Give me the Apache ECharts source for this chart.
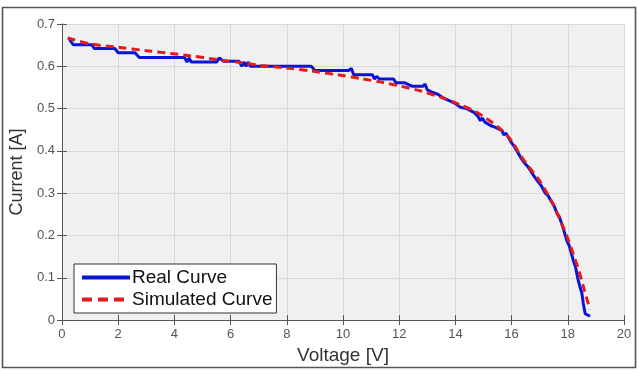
<!DOCTYPE html>
<html>
<head>
<meta charset="utf-8">
<script src="https://cdn.jsdelivr.net/npm/echarts@6/dist/echarts.min.js"></script>
<style>
html,body{margin:0;padding:0;background:#fff;}
#chart{width:639px;height:370px;}
</style>
</head>
<body>
<div id="chart"></div>
<script>
var xTicks = [0, 2, 4, 6, 8, 10, 12, 14, 16, 18, 20];
var yTicks = [0, 0.1, 0.2, 0.3, 0.4, 0.5, 0.6, 0.7];

var realV = [0.27, 0.40, 1.06, 1.15, 1.88, 2.00, 2.60, 2.75, 4.36, 4.45, 4.52, 4.60, 5.50, 5.60, 5.75, 6.30, 6.40, 6.48, 6.55, 6.62, 6.70, 8.87, 9.00, 10.20, 10.30, 10.38, 11.05, 11.12, 11.20, 11.30, 11.80, 11.88, 12.20, 12.45, 12.85, 12.92, 13.00, 13.20, 13.40, 13.60, 13.80, 14.00, 14.18, 14.40, 14.66, 14.80, 14.89, 14.95, 15.05, 15.25, 15.45, 15.66, 15.72, 15.80, 16.02, 16.10, 16.31, 16.45, 16.55, 16.67, 16.75, 16.90, 17.05, 17.20, 17.30, 17.40, 17.50, 17.61, 17.70, 17.80, 17.97, 18.05, 18.20, 18.28, 18.35, 18.44, 18.50, 18.55, 18.62, 18.79];
var realI = [0.663, 0.651, 0.651, 0.642, 0.642, 0.632, 0.632, 0.621, 0.621, 0.610, 0.620, 0.610, 0.610, 0.620, 0.612, 0.612, 0.600, 0.610, 0.600, 0.610, 0.600, 0.600, 0.590, 0.590, 0.595, 0.580, 0.580, 0.570, 0.576, 0.570, 0.570, 0.561, 0.561, 0.553, 0.553, 0.558, 0.544, 0.538, 0.533, 0.524, 0.518, 0.512, 0.503, 0.500, 0.491, 0.482, 0.471, 0.478, 0.468, 0.460, 0.455, 0.448, 0.438, 0.442, 0.417, 0.410, 0.386, 0.372, 0.365, 0.354, 0.345, 0.331, 0.318, 0.300, 0.294, 0.282, 0.272, 0.253, 0.244, 0.225, 0.187, 0.176, 0.140, 0.124, 0.100, 0.077, 0.064, 0.040, 0.015, 0.009];

var simV = [0.20, 1.00, 2.00, 3.00, 4.55, 5.50, 6.44, 7.09, 8.00, 8.87, 9.80, 10.64, 11.40, 12.06, 12.80, 13.60, 14.20, 14.66, 15.10, 15.60, 16.00, 16.31, 16.70, 17.02, 17.49, 17.97, 18.20, 18.38, 18.55, 18.73, 18.78];
var simI = [0.667, 0.653, 0.645, 0.637, 0.625, 0.616, 0.608, 0.602, 0.596, 0.589, 0.580, 0.571, 0.562, 0.553, 0.541, 0.524, 0.508, 0.495, 0.477, 0.452, 0.424, 0.390, 0.355, 0.327, 0.272, 0.198, 0.155, 0.120, 0.080, 0.038, 0.025];

var seriesNames = ['Real Curve', 'Simulated Curve'];

function pairs(xs, ys) {
  var out = [];
  for (var i = 0; i < xs.length; i++) out.push([xs[i], ys[i]]);
  return out;
}

var chart = echarts.init(document.getElementById('chart'), null, {renderer: 'canvas'});
var FONT = '"Liberation Sans", Arial, sans-serif';
var xMin = xTicks[0], xMax = xTicks[xTicks.length - 1], xInt = xTicks[1] - xTicks[0];
var yMin = yTicks[0], yMax = yTicks[yTicks.length - 1], yInt = +(yTicks[1] - yTicks[0]).toFixed(2);

var BLUE = '#0a14d8', RED = '#e41a1c';
var axisLineStyle = {color: '#555', width: 1};
chart.setOption({
  animation: false,
  backgroundColor: '#ffffff',
  grid: {left: 60, right: 15, top: 24, bottom: 47, show: true, backgroundColor: '#f0f0f0', borderWidth: 0},
  graphic: [{
    type: 'rect', silent: true, z: 100,
    shape: {x: 2.5, y: 7.5, width: 633, height: 360},
    style: {fill: 'none', stroke: '#555', lineWidth: 1.6}
  }],
  legend: {
    left: 74, top: 264, orient: 'vertical',
    data: [
      {name: seriesNames[0], lineStyle: {color: BLUE, width: 4, type: 'solid'}},
      {name: seriesNames[1], lineStyle: {color: RED, width: 4, type: [10, 6]}}
    ],
    itemWidth: 48, itemHeight: 14, itemGap: 3,
    itemStyle: {opacity: 0},
    padding: [4, 4, 4, 6],
    backgroundColor: '#ffffff', borderColor: '#333', borderWidth: 1, borderRadius: 0,
    textStyle: {fontFamily: FONT, fontSize: 19, color: '#111', lineHeight: 19, padding: [0, 0, 0, -3]}
  },
  xAxis: [{
    type: 'value', min: xMin, max: xMax, interval: xInt, position: 'bottom',
    name: 'Voltage [V]', nameLocation: 'middle', nameGap: 25,
    nameTextStyle: {fontFamily: FONT, fontSize: 19, color: '#333'},
    axisLine: {show: true, lineStyle: axisLineStyle},
    axisTick: {show: true, inside: true, length: 5, lineStyle: axisLineStyle},
    axisLabel: {fontFamily: FONT, fontSize: 13, color: '#555', margin: 8},
    splitLine: {show: true, lineStyle: {color: '#d9d9d9', width: 1}}
  }, {
    type: 'value', min: xMin, max: xMax, interval: xInt, position: 'top',
    axisLine: {show: true, lineStyle: axisLineStyle},
    axisTick: {show: true, inside: true, length: 5, lineStyle: axisLineStyle},
    axisLabel: {show: false}, splitLine: {show: false}
  }],
  yAxis: [{
    type: 'value', min: yMin, max: yMax, interval: yInt, position: 'left',
    name: 'Current [A]', nameLocation: 'middle', nameGap: 30, nameRotate: 90,
    nameTextStyle: {fontFamily: FONT, fontSize: 18, color: '#333'},
    axisLine: {show: true, lineStyle: axisLineStyle},
    axisTick: {show: true, inside: true, length: 5, lineStyle: axisLineStyle},
    axisLabel: {fontFamily: FONT, fontSize: 13, color: '#555', margin: 7},
    splitLine: {show: true, lineStyle: {color: '#d9d9d9', width: 1}}
  }, {
    type: 'value', min: yMin, max: yMax, interval: yInt, position: 'right',
    axisLine: {show: true, lineStyle: axisLineStyle},
    axisTick: {show: true, inside: true, length: 5, lineStyle: axisLineStyle},
    axisLabel: {show: false}, splitLine: {show: false}
  }],
  series: [{
    name: seriesNames[0], type: 'line', xAxisIndex: 0, yAxisIndex: 0,
    data: pairs(realV, realI), symbol: 'none', showSymbol: false, z: 3,
    lineStyle: {color: BLUE, width: 3},
    itemStyle: {color: BLUE}
  }, {
    name: seriesNames[1], type: 'line', xAxisIndex: 0, yAxisIndex: 0,
    data: pairs(simV, simI), symbol: 'none', showSymbol: false, smooth: 0.3, z: 4,
    lineStyle: {color: RED, width: 3, type: [8, 5]},
    itemStyle: {color: RED}
  }]
});
</script>
</body>
</html>
